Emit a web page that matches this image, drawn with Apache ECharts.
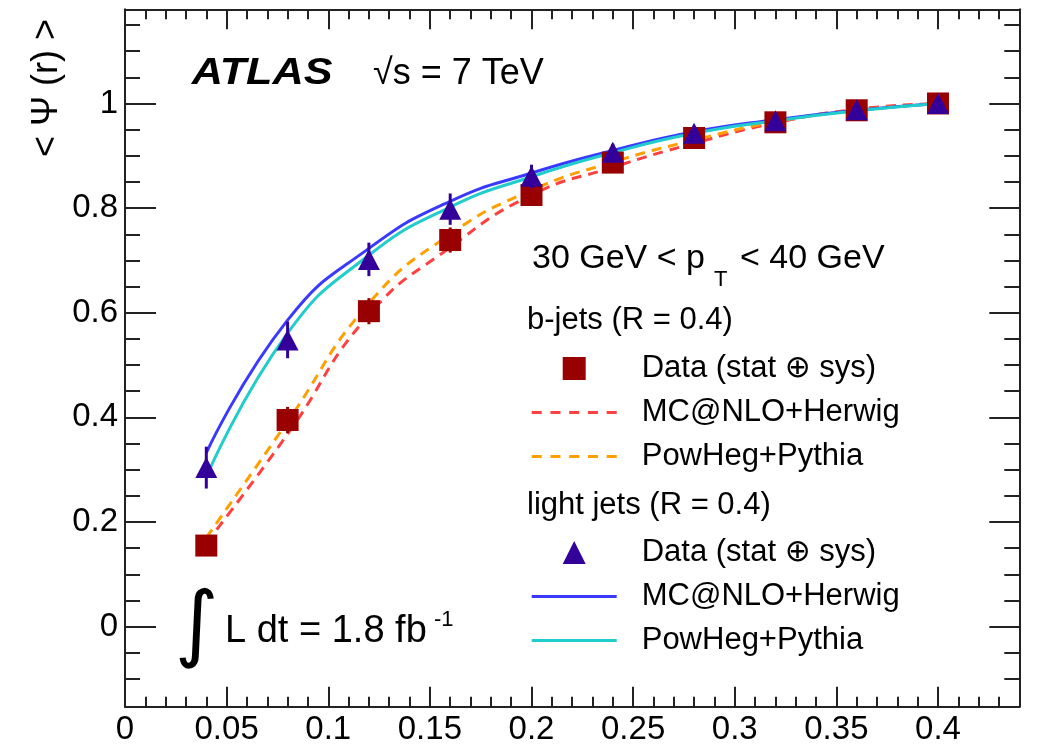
<!DOCTYPE html>
<html>
<head>
<meta charset="utf-8">
<script src="https://cdn.jsdelivr.net/npm/echarts@6/dist/echarts.min.js"></script>
<style>html,body{margin:0;padding:0;background:#fff}#chart{width:1040px;height:748px}</style>
</head>
<body>
<div id="chart"></div>
<script>
// ---- data ----
const rValues = [0.04, 0.08, 0.12, 0.16, 0.20, 0.24, 0.28, 0.32, 0.36, 0.40];
const bJetData = [0.155, 0.395, 0.603, 0.739, 0.825, 0.887, 0.934, 0.964, 0.987, 1.000];
const bJetErr = [0.012, 0.025, 0.025, 0.024, 0.018, 0.014, 0.012, 0.010, 0.008, 0.004];
const lightJetData = [0.304, 0.548, 0.702, 0.798, 0.861, 0.907, 0.943, 0.967, 0.988, 1.000];
const lightJetErr = [0.040, 0.035, 0.032, 0.030, 0.022, 0.016, 0.012, 0.010, 0.008, 0.004];
const bMcNloHerwig = [0.160, 0.368, 0.596, 0.725, 0.825, 0.878, 0.924, 0.963, 0.989, 1.000];
const bPowhegPythia = [0.170, 0.392, 0.618, 0.750, 0.834, 0.888, 0.930, 0.965, 0.987, 1.000];
const lightMcNloHerwig = [0.332, 0.586, 0.723, 0.813, 0.867, 0.910, 0.946, 0.969, 0.987, 1.000];
const lightPowhegPythia = [0.286, 0.561, 0.710, 0.802, 0.860, 0.906, 0.943, 0.967, 0.986, 1.000];

const xMajorTicks = [0, 0.05, 0.1, 0.15, 0.2, 0.25, 0.3, 0.35, 0.4];
const xMinorTicks = [0.01, 0.02, 0.03, 0.04, 0.06, 0.07, 0.08, 0.09, 0.11, 0.12, 0.13, 0.14,
  0.16, 0.17, 0.18, 0.19, 0.21, 0.22, 0.23, 0.24, 0.26, 0.27, 0.28, 0.29, 0.31, 0.32, 0.33, 0.34,
  0.36, 0.37, 0.38, 0.39, 0.41, 0.42, 0.43];
const yMajorTicks = [0, 0.2, 0.4, 0.6, 0.8, 1];
const yMinorTicks = [-0.1, -0.05, 0.05, 0.1, 0.15, 0.25, 0.3, 0.35, 0.45, 0.5, 0.55, 0.65, 0.7, 0.75,
  0.85, 0.9, 0.95, 1.05, 1.1, 1.15];

const legendLabels = {
  bData: 'Data (stat \u2295 sys)', bMC: 'MC@NLO+Herwig', bPow: 'PowHeg+Pythia',
  lData: 'Data (stat \u2295 sys)', lMC: 'MC@NLO+Herwig', lPow: 'PowHeg+Pythia'
};

// ---- style ----
const FONT = '"Liberation Sans", Arial, Helvetica, "DejaVu Sans", sans-serif';
const AX = '#222';
const C_BDATA = '#990000', C_LDATA = '#330099';
const C_BMC = '#ff4040', C_BPOW = '#ff9f00', C_LMC = '#3a3aff', C_LPOW = '#20cccc';
const DASH_ICON = 'path://M0,0h10v3h-10z M18.75,0h10v3h-10z M37.5,0h10v3h-10z M56.25,0h10v3h-10z M75,0h10v3h-10z';
const SOLID_ICON = 'path://M0,0h85v3h-85z';

const XMIN = 0, XMAX = 0.44, YMIN = -0.153, YMAX = 1.18;

function pairs(ys) { return rValues.map((r, i) => [r, ys[i]]); }
function triples(ys, es) { return rValues.map((r, i) => [r, ys[i], es[i]]); }

function xAx(pos, ticks, len, showLine, labels) {
  return {
    type: 'value', position: pos, min: XMIN, max: XMAX, gridIndex: 0,
    axisLine: { show: showLine, onZero: false, lineStyle: { color: AX, width: 2 } },
    axisTick: { show: true, inside: true, length: len, customValues: ticks, lineStyle: { color: AX, width: 2 } },
    axisLabel: labels ? { show: true, customValues: ticks, fontSize: 33, color: '#000', fontFamily: FONT, margin: 7 } : { show: false },
    splitLine: { show: false }, minorTick: { show: false }
  };
}
function yAx(pos, ticks, len, showLine, labels) {
  return {
    type: 'value', position: pos, min: YMIN, max: YMAX, gridIndex: 0,
    axisLine: { show: showLine, onZero: false, lineStyle: { color: AX, width: 2 } },
    axisTick: { show: true, inside: true, length: len, customValues: ticks, lineStyle: { color: AX, width: 2 } },
    axisLabel: labels ? { show: true, customValues: ticks, fontSize: 33, color: '#000', fontFamily: FONT, margin: 7 } : { show: false },
    splitLine: { show: false }, minorTick: { show: false }
  };
}

function errRender(color) {
  return function (params, api) {
    const x = api.value(0), y = api.value(1), e = api.value(2);
    const p1 = api.coord([x, y + e]);
    const p2 = api.coord([x, y - e]);
    return { type: 'line', shape: { x1: p1[0], y1: p1[1], x2: p2[0], y2: p2[1] }, style: { stroke: color, lineWidth: 3 } };
  };
}

function curve(name, ys, color, dashed) {
  return {
    name: name, type: 'line', data: pairs(ys), smooth: 0.5, symbol: 'none', showSymbol: false,
    color: color, itemStyle: { color: color },
    lineStyle: { color: color, width: 3, type: dashed ? [10, 7] : 'solid' },
    emphasis: { disabled: true }, silent: true, z: 2
  };
}

const legendCommon = {
  orient: 'vertical', padding: 0, itemWidth: 85, itemHeight: 23, itemGap: 13,
  selectedMode: false, symbolKeepAspect: true,
  itemStyle: { borderWidth: 0 },
  textStyle: { fontSize: 31, color: '#000', fontFamily: FONT, padding: [0, 0, 0, 20] },
  formatter: function (name) { return legendLabels[name]; }
};

const option = {
  backgroundColor: '#fff',
  animation: false,
  grid: { left: 125, right: 20.7, top: 9.3, bottom: 41.3, containLabel: false, outerBoundsMode: 'none' },
  xAxis: [
    xAx('bottom', xMajorTicks, 20, true, true),
    xAx('bottom', xMinorTicks, 10, false, false),
    xAx('top', xMajorTicks, 20, true, false),
    xAx('top', xMinorTicks, 10, false, false)
  ],
  yAxis: [
    yAx('left', yMajorTicks, 31, true, true),
    yAx('left', yMinorTicks, 15, false, false),
    yAx('right', yMajorTicks, 30, true, false),
    yAx('right', yMinorTicks, 15, false, false)
  ],
  legend: [
    Object.assign({}, legendCommon, {
      left: 531.7, top: 353,
      data: [{ name: 'bData', icon: 'path://M0,0h10v10h-10z' }, { name: 'bMC', icon: DASH_ICON }, { name: 'bPow', icon: DASH_ICON }]
    }),
    Object.assign({}, legendCommon, {
      left: 531.7, top: 537,
      data: [{ name: 'lData', icon: 'path://M5,0L10,10L0,10z' }, { name: 'lMC', icon: SOLID_ICON }, { name: 'lPow', icon: SOLID_ICON }]
    })
  ],
  series: [
    curve('bMC', bMcNloHerwig, C_BMC, true),
    curve('bPow', bPowhegPythia, C_BPOW, true),
    curve('lMC', lightMcNloHerwig, C_LMC, false),
    curve('lPow', lightPowhegPythia, C_LPOW, false),
    { name: 'bErr', type: 'custom', data: triples(bJetData, bJetErr), renderItem: errRender(C_BDATA),
      encode: { x: 0, y: 1 }, silent: true, z: 3 },
    { name: 'bData', type: 'scatter', data: pairs(bJetData), symbol: 'rect', symbolSize: 22,
      color: C_BDATA, itemStyle: { color: C_BDATA, opacity: 1 }, emphasis: { disabled: true }, silent: true, z: 3 },
    { name: 'lErr', type: 'custom', data: triples(lightJetData, lightJetErr), renderItem: errRender(C_LDATA),
      encode: { x: 0, y: 1 }, silent: true, z: 4 },
    { name: 'lData', type: 'scatter', data: pairs(lightJetData), symbol: 'triangle', symbolSize: [22, 21],
      color: C_LDATA, itemStyle: { color: C_LDATA, opacity: 1 }, emphasis: { disabled: true }, silent: true, z: 4 }
  ],
  graphic: [
    { type: 'text', x: 47, y: 88, rotation: Math.PI / 2,
      style: { text: '< \u03A8 (r) >', fontSize: 36, fontFamily: FONT, fill: '#000',
        align: 'center', verticalAlign: 'middle', textAlign: 'center', textVerticalAlign: 'middle' } },
    { type: 'text', x: 191.7, y: 74, scaleX: 1.2,
      style: { text: 'ATLAS', fontSize: 36, fontWeight: 'bold', fontStyle: 'italic', fontFamily: FONT, fill: '#000',
        align: 'left', verticalAlign: 'middle', textAlign: 'left', textVerticalAlign: 'middle' } },
    { type: 'text', x: 373, y: 74,
      style: { text: '\u221As = 7 TeV', fontSize: 36, fontFamily: FONT, fill: '#000',
        align: 'left', verticalAlign: 'middle', textAlign: 'left', textVerticalAlign: 'middle' } },
    { type: 'text', x: 532, y: 258.3,
      style: { text: '30 GeV < p', fontSize: 34, fontFamily: FONT, fill: '#000',
        align: 'left', verticalAlign: 'middle', textAlign: 'left', textVerticalAlign: 'middle' } },
    { type: 'text', x: 714, y: 280,
      style: { text: 'T', fontSize: 22, fontFamily: FONT, fill: '#000',
        align: 'left', verticalAlign: 'middle', textAlign: 'left', textVerticalAlign: 'middle' } },
    { type: 'text', x: 740, y: 258.3,
      style: { text: '< 40 GeV', fontSize: 34, fontFamily: FONT, fill: '#000',
        align: 'left', verticalAlign: 'middle', textAlign: 'left', textVerticalAlign: 'middle' } },
    { type: 'text', x: 527, y: 320.5,
      style: { text: 'b-jets (R = 0.4)', fontSize: 31, fontFamily: FONT, fill: '#000',
        align: 'left', verticalAlign: 'middle', textAlign: 'left', textVerticalAlign: 'middle' } },
    { type: 'text', x: 527, y: 505.5,
      style: { text: 'light jets (R = 0.4)', fontSize: 31, fontFamily: FONT, fill: '#000',
        align: 'left', verticalAlign: 'middle', textAlign: 'left', textVerticalAlign: 'middle' } },
    { type: 'text', x: 197, y: 629,
      style: { text: '\u222B', fontSize: 84, fontFamily: '"DejaVu Sans", sans-serif', fill: '#000',
        align: 'center', verticalAlign: 'middle', textAlign: 'center', textVerticalAlign: 'middle' } },
    { type: 'text', x: 225, y: 632,
      style: { text: 'L dt = 1.8 fb', fontSize: 38, fontFamily: FONT, fill: '#000',
        align: 'left', verticalAlign: 'middle', textAlign: 'left', textVerticalAlign: 'middle' } },
    { type: 'text', x: 434, y: 620,
      style: { text: '-1', fontSize: 22, fontFamily: FONT, fill: '#000',
        align: 'left', verticalAlign: 'middle', textAlign: 'left', textVerticalAlign: 'middle' } }
  ]
};

const chart = echarts.init(document.getElementById('chart'), null, { renderer: 'canvas' });
chart.setOption(option);
</script>
</body>
</html>
